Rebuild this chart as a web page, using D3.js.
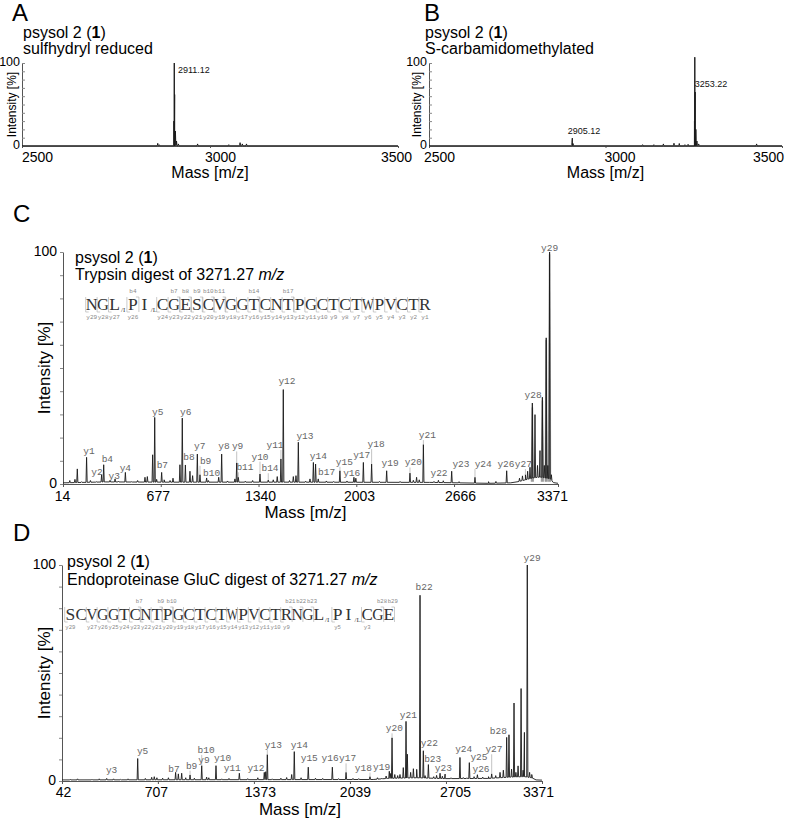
<!DOCTYPE html>
<html><head><meta charset="utf-8">
<script src="https://cdn.jsdelivr.net/npm/d3@7/dist/d3.min.js"></script>
<style>
body{margin:0;background:#fff}
svg{display:block}
</style></head><body>
<svg id="fig" width="785" height="820"></svg>
<script>
// ================= DATA =================
const intensityTicks = [0,10,20,30,40,50,60,70,80,90,100];
const massTicksAB = [2500, 3000, 3500];
const massTicksC  = [14, 677, 1340, 2003, 2666, 3371];
const massTicksD  = [42, 707, 1373, 2039, 2705, 3371];

// Panel A – sulfhydryl reduced  [mass, intensity %]
const peaksA = [[2861,3.2],[2865,1.5],[2904,30],[2905,100],[2906,62],[2908,18],[2911,6],[2916,2.5],
  [2967,2.5],[3050,1.6],[3080,4],[3086,2.5],[3097,2.5]];
const tagsA = [["2911.12", 2957, 88]];

// Panel B – S-carbamidomethylated
const peaksB = [[2905,4],[2906,9.5],[2908,3],[3105,1.6],[3137,1.6],[3164,2.5],[3194,3.3],[3209,3],[3225,1.6],[3234,2],
  [3252,30],[3253,107],[3254,65],[3256,20],[3259,6],[3264,2.5],[3428,2.5]];
const tagsB = [["2905.12", 2939, 14], ["3253.22", 3299, 71]];

// Panel C – trypsin digest  [mass, intensity %]
const peaksC = [[111,6.5],[174,11.5],[276,4],[290,8.3],[333,1.5],[367,2.2],[437,5],[570,2.9],[586,3.2],[622,12.6],[636,28.7],
  [649,2],[683,5],[807,8.3],[823,28.4],[844,8.2],[875,5.5],[893,3.6],[925,12.9],[943,4],[988,2.6],[1070,2.9],[1090,12.9],
  [1180,2.2],[1192,9.1],[1203,2.9],[1350,4.3],[1406,1.7],[1467,3.2],[1492,10.8],[1508,40.7],[1576,3.2],[1594,3.6],[1610,18],
  [1689,2.2],[1712,9.3],[1727,8.6],[1745,2.2],[1892,5.7],[1987,2.9],[2051,9.3],[2107,8.6],[2209,5.7],[2367,4.7],[2412,2.9],
  [2458,17],[2593,1.4],[2650,5.5],[2808,2.9],[3023,5.7],[3150,4],[3165,5.5],[3181,7.2],[3197,34.9],[3215,29.9],[3232,8],
  [3249,14.4],[3265,37.4],[3278,8],[3291,63],[3302,8],[3314,100],[3326,4]];
// broad (grey) profile of the most intense precursor-region peaks
const broadC = [[3197,33],[3265,36],[3291,62],[3314,99]];
const noiseC = [[60,1.5],[95,2],[140,1],[200,1.5],[240,1],[390,1.2],[480,1],[520,1.5],[700,1.8],[740,1.5],[760,2.5],
  [1000,1.5],[1130,1.3],[1250,1.2],[1300,1.5],[1440,1.8],[1550,1.5],[1660,1.2],[1800,1.3],[1850,1.1],[1940,1.3],[2000,2.5],
  [2160,1.1],[2300,1.1],[2390,1.6],[2430,1.8],[2530,1.1],[2560,1.6],[2700,1],[2900,1],[2950,1.1],[3110,2.5],[3130,3.5]];
const baseC = [[14,0.5],[300,0.9],[700,0.8],[1500,0.8],[2500,0.7],[2900,0.3],[3050,0.5],[3100,1],[3150,1.8],[3200,2.6],
  [3250,3],[3320,2.2],[3340,0.6],[3371,0.3]];
// [label, peak mass, label mass, label level %]
const tagsC = [["y1",174,190,12.8],["y2",276,245,3.7],["b4",290,315,9.5],["y3",367,362,2.3],["y4",437,437,5.6],
  ["y5",636,656,29.6],["b7",683,688,7.0],["y6",823,846,29.6],["b8",844,868,10.2],["y7",925,941,14.9],["b9",943,981,8.7],
  ["b10",988,1022,3.5],["y8",1090,1106,14.9],["y9",1192,1198,14.9],["b11",1203,1248,5.9],["y10",1350,1350,10.5],
  ["b14",1406,1418,5.5],["y11",1492,1452,15.5],["y12",1508,1533,43.2],["y13",1610,1655,19.5],["y14",1712,1746,10.9],
  ["b17",1745,1802,3.7],["y15",1892,1922,8.3],["y16",1987,1972,3.3],["y17",2051,2040,11.2],["y18",2107,2137,15.9],
  ["y19",2209,2232,7.9],["y20",2367,2390,8.0],["y21",2458,2485,19.8],["y22",2593,2564,3.5],["y23",2650,2713,7.3],
  ["y24",2808,2864,7.3],["y26",3023,3018,7.3],["y27",3150,3136,7.3],["y28",3197,3202,37.2],["y29",3314,3314,100.6]];

// Panel D – GluC digest
const peaksD = [[352,1.2],[567,10.4],[664,1.7],[682,2],[830,4.0],[849,3.3],[872,3.6],[930,2.8],[1011,7.1],[1045,1.8],
  [1110,7.1],[1272,3.6],[1445,4.0],[1455,4.3],[1466,12.2],[1635,3.0],[1653,13.6],[1750,6.4],[1917,6.4],[2012,4.0],
  [2178,2.0],[2312,4.5],[2322,3.5],[2331,20.0],[2386,3],[2409,6.2],[2428,27.6],[2437,12.4],[2479,5.7],[2502,5.4],
  [2525,86],[2548,14],[2583,7.6],[2664,3.6],[2699,3.2],[2802,10.9],[2825,1.6],[2867,8.5],[2923,2.9],[3022,3.3],[3080,4],
  [3103,5],[3126,20.2],[3142,21.4],[3160,5.5],[3177,36.1],[3205,7],[3226,42.8],[3249,22.5],[3269,100],[3285,4]];
const noiseD = [[100,0.8],[150,1],[250,0.8],[300,1],[400,1],[450,0.8],[500,1],[620,1.2],[700,1.5],[740,1.3],[780,1.5],
  [900,1.5],[960,1.3],[1060,1.5],[1150,1],[1200,1.2],[1330,1.1],[1400,1.5],[1500,1],[1560,1.3],[1600,1.6],[1700,1.5],
  [1800,1.3],[1850,1.2],[1960,1.1],[2060,1.2],[2100,1.1],[2230,1.5],[2260,1.3],[2290,2.3],[2350,3],[2370,2.5],[2460,4],
  [2560,2.5],[2620,2],[2640,2.6],[2680,2.2],[2740,1.5],[2850,1.5],[2900,2],[2960,1.8],[3000,2],[3050,2.5],[3190,4],
  [3240,5],[3300,3]];
const baseD = [[42,0.5],[2200,0.7],[2300,1.2],[2500,1.5],[2700,1.1],[3000,1.2],[3150,1.8],[3250,2],[3300,1.5],[3330,0.5],[3371,0.4]];
const tagsD = [["y3",352,386,3.7],["y5",567,601,12.6],["b7",830,819,4.2],["b9",930,941,5.7],["b10",1011,1041,13.0],
  ["y9",1011,1027,8.4],["y10",1110,1156,9.1],["y11",1272,1223,4.5],["y12",1455,1387,4.5],["y13",1466,1508,15.3],
  ["y14",1653,1688,15.3],["y15",1750,1757,9.1],["y16",1917,1901,9.1],["y17",2012,2023,9.1],["y18",2178,2132,4.8],
  ["y19",2312,2259,5.3],["y20",2331,2347,23.0],["y21",2428,2444,29.3],["b22",2525,2553,88.4],["y22",2548,2590,16.4],
  ["b23",2583,2613,8.7],["y23",2664,2687,4.8],["y24",2802,2828,13.6],["y25",2867,2934,9.8],["y26",2923,2948,4.0],
  ["y27",3022,3038,13.3],["b28",3126,3068,21.9],["y29",3269,3302,102]];

// Sequences and observed fragment ions
const seqC = "NGLPICGESCVGGTCNTPGCTCTWPVCTR";
const subsC = [[3,"/I"],[5,"/L"]];
const bIonsC = [4,7,8,9,10,11,14,17];
const yIonsC = [29,28,27,26,24,23,22,21,20,19,18,17,16,15,14,13,12,11,10,9,8,7,6,5,4,3,2,1];
const seqD = "SCVGGTCNTPGCTCTWPVCTRNGLPICGE";
const subsD = [[24,"/I"],[26,"/L"]];
const bIonsD = [7,9,10,21,22,23,28,29];
const yIonsD = [29,27,26,25,24,23,22,21,20,19,18,17,16,15,14,13,12,11,10,9,5,3];

// ================= DRAWING =================
const SANS = '"Liberation Sans", Arial, Helvetica, sans-serif';
const MONO = '"Liberation Mono", "DejaVu Sans Mono", monospace';
const SERIF = '"Liberation Serif", "DejaVu Serif", serif';
const svg = d3.select("#fig");

function spectrumPoints(peaks, noise, base, w){
  const bl = d3.scaleLinear().domain(base.map(d=>d[0])).range(base.map(d=>d[1])).clamp(true);
  const pts = base.map(d=>[d[0], d[1]]);
  peaks.concat(noise).forEach(([m,h])=>{
    pts.push([m-w, bl(m-w)], [m, Math.max(h, bl(m))], [m+w, bl(m+w)]);
  });
  pts.sort((a,b)=>a[0]-b[0]);
  return pts;
}

function panel(cfg){
  const x = d3.scaleLinear().domain(cfg.domain).range(cfg.xr);
  const y = d3.scaleLinear().domain([0,100]).range(cfg.yr);
  const g = svg.append("g");

  g.append("text").attr("x", cfg.letter[1]).attr("y", cfg.letter[2]).text(cfg.letter[0])
    .style("font-family", SANS).style("font-size", "24px").attr("fill", "#000");

  const t = g.append("text").attr("x", cfg.title[0]).attr("y", cfg.title[1])
    .style("font-family", SANS).style("font-size", "16px").attr("fill", "#000");
  t.append("tspan").text("psysol 2 (");
  t.append("tspan").text("1").style("font-weight", "bold");
  t.append("tspan").text(")");
  const t2 = g.append("text").attr("x", cfg.title[0]).attr("y", cfg.title[1] + cfg.title[2])
    .style("font-family", SANS).style("font-size", "16px").attr("fill", "#000");
  cfg.subtitle.forEach(([s, it]) => { const sp = t2.append("tspan").text(s); if (it) sp.style("font-style", "italic"); });

  const ya = g.append("g").attr("transform", `translate(${cfg.xr[0]},0)`)
    .call(d3.axisLeft(y).tickValues(intensityTicks).tickSize(cfg.yTick).tickSizeOuter(0).tickPadding(cfg.yPad)
      .tickFormat(d => (d === 0 || d === 100) ? d : ""));
  ya.select(".domain").attr("stroke", "#555");
  ya.selectAll(".tick line").attr("stroke", "#888");
  ya.selectAll(".tick text").style("font-family", SANS).style("font-size", cfg.fsY + "px").attr("fill", "#000")
    .attr("dy", cfg.yDy || "0.32em");

  const xa = g.append("g").attr("transform", `translate(0,${cfg.yr[0]})`)
    .call(d3.axisBottom(x).tickValues(cfg.ticks).tickSize(cfg.xTick).tickSizeOuter(0).tickPadding(cfg.xPad).tickFormat(d3.format("d")));
  xa.select(".domain").attr("stroke", "#555");
  xa.selectAll(".tick line").attr("stroke", "#555");
  xa.selectAll(".tick text").style("font-family", SANS).style("font-size", cfg.fs + "px").attr("fill", "#000")
    .attr("dx", (d, i) => cfg.tickDx[i]);

  g.append("text").attr("x", (cfg.xr[0] + cfg.xr[1]) / 2 + cfg.massDx).attr("y", cfg.massY)
    .attr("text-anchor", "middle").style("font-family", SANS).style("font-size", cfg.fsT + "px").text("Mass [m/z]");
  g.append("text").attr("transform", `translate(${cfg.intX},${(cfg.yr[0] + cfg.yr[1]) / 2}) rotate(-90)`)
    .attr("text-anchor", "middle").style("font-family", SANS).style("font-size", cfg.fsI + "px").text("Intensity [%]");

  if (cfg.broad) {
    const area = d3.line().x(d => x(d[0])).y(d => y(d[1]));
    cfg.broad.forEach(([m, h]) => {
      g.append("path").attr("d", area([[m - 8, 1], [m - 2.5, h], [m + 2.5, h], [m + 8, 1]]))
        .attr("fill", "#9a9a9a").attr("stroke", "#8a8a8a").attr("stroke-width", 0.6);
    });
  }

  const line = d3.line().x(d => x(d[0])).y(d => y(d[1]));
  g.append("path").attr("d", line(spectrumPoints(cfg.peaks, cfg.noise || [], cfg.base, cfg.w)))
    .attr("fill", "none").attr("stroke", "#1a1a1a").attr("stroke-width", cfg.sw || 0.9).attr("stroke-linejoin", "miter");

  return {g, x, y};
}

function mzTags(p, tags){
  tags.forEach(([txt, m, lvl]) => {
    p.g.append("text").attr("x", p.x(m)).attr("y", p.y(lvl)).attr("text-anchor", "middle")
      .style("font-family", SANS).style("font-size", "9px").attr("fill", "#111").text(txt);
  });
}

function ionTags(p, tags, peaks){
  const hmap = new Map(peaks.map(d => [d[0], d[1]]));
  tags.forEach(([txt, pm, lm, lvl]) => {
    const h = hmap.get(pm);
    const top = p.y(h), lab = p.y(lvl) + 2;
    if (top - lab > 4) {
      p.g.append("line").attr("x1", p.x(pm)).attr("x2", p.x(pm)).attr("y1", top).attr("y2", lab)
        .attr("stroke", "#aaa").attr("stroke-width", 0.7);
    }
    p.g.append("text").attr("x", p.x(lm)).attr("y", p.y(lvl)).attr("text-anchor", "middle")
      .style("font-family", MONO).style("font-size", "9.5px").attr("fill", "#666").text(txt);
  });
}

function sequence(cfg){
  const g = svg.append("g");
  const N = cfg.seq.length;
  const left = i => cfg.x0 + i * cfg.pitch + cfg.gap * cfg.subs.filter(s => s[0] <= i).length;
  const bY = cfg.base;
  cfg.seq.split("").forEach((c, i) => {
    const t = g.append("text").attr("x", left(i) + cfg.pitch / 2).attr("y", bY).attr("text-anchor", "middle")
      .style("font-family", SERIF).style("font-size", "17.5px").attr("fill", "#333").text(c);
    const wdt = t.node().getComputedTextLength();
    const maxW = cfg.pitch * 1.05;
    if (wdt > maxW) {
      const cx = left(i) + cfg.pitch / 2, s = maxW / wdt;
      t.attr("transform", `translate(${cx},0) scale(${s},1) translate(${-cx},0)`);
    }
  });
  cfg.subs.forEach(([after, s]) => {
    g.append("text").attr("x", left(after - 1) + cfg.pitch + 0.8).attr("y", bY + 2)
      .style("font-family", SERIF).style("font-size", "7px").attr("fill", "#444").text(s);
  });
  const mk = "#b5b5b5";
  cfg.yIons.forEach(n => {
    const i = N - n, bx = left(i) - 0.3;
    g.append("path").attr("d", `M${bx},${bY - 13}V${bY + 2}h3`).attr("fill", "none").attr("stroke", mk).attr("stroke-width", 0.7);
    g.append("text").attr("x", left(i) + cfg.pitch / 2).attr("y", bY + 9.2).attr("text-anchor", "middle")
      .style("font-family", MONO).style("font-size", cfg.fsIon + "px").attr("fill", "#888").text("y" + n);
  });
  cfg.bIons.forEach(n => {
    const i = n - 1, bx = left(i) + cfg.pitch + 0.3;
    g.append("path").attr("d", `M${bx - 3},${bY - 13}H${bx}V${bY + 2}`).attr("fill", "none").attr("stroke", mk).attr("stroke-width", 0.7);
    g.append("text").attr("x", left(i) + cfg.pitch / 2 + cfg.bShift).attr("y", bY - 17.5).attr("text-anchor", "middle")
      .style("font-family", MONO).style("font-size", cfg.fsIon + "px").attr("fill", "#888").text("b" + n);
  });
}

// ---- Panel A
const pA = panel({domain:[2500,3500], xr:[22,398], yr:[146,63], ticks:massTicksAB, tickDx:[15,10,-2], xTick:2, xPad:4,
  yTick:-3, yPad:2, fsY:12.5, yDy:"0.2em",
  letter:["A",12,21], title:[23,38,16], subtitle:[["sulfhydryl reduced",false]], fs:14, fsT:16, fsI:12,
  massDx:0, massY:178, intX:16, peaks:peaksA, base:[[2500,0.3],[3500,0.3]], w:1.2, sw:1});
mzTags(pA, tagsA);

// ---- Panel B
const pB = panel({domain:[2500,3500], xr:[429,782], yr:[146,63], ticks:massTicksAB, tickDx:[10,14,-14], xTick:2, xPad:4,
  yTick:-3, yPad:2, fsY:12.5, yDy:"0.2em",
  letter:["B",424,21], title:[425,38,16], subtitle:[["S-carbamidomethylated",false]], fs:14, fsT:16, fsI:12,
  massDx:0, massY:178, intX:421, peaks:peaksB, base:[[2500,0.3],[3500,0.3]], w:1.2, sw:1});
mzTags(pB, tagsB);

// ---- Panel C
const pC = panel({domain:[14,3371], xr:[63,558], yr:[484,252], ticks:massTicksC, tickDx:[-1,-3,1.5,2.7,6,-6], xTick:3, xPad:4,
  yTick:3, yPad:3, fsY:14, yDy:"0.25em",
  letter:["C",13,222], title:[75,263,17], subtitle:[["Trypsin digest of 3271.27 ",false],["m/z",true]], fs:14, fsT:17, fsI:17,
  massDx:-5, massY:518, intX:50, peaks:peaksC, broad:broadC, noise:noiseC, base:baseC, w:4});
ionTags(pC, tagsC, peaksC);
sequence({seq:seqC, subs:subsC, bIons:bIonsC, yIons:yIonsC, x0:86, pitch:11.4, gap:7, base:310, bShift:0, fsIon:6});

// ---- Panel D
const pD = panel({domain:[42,3371], xr:[62,542], yr:[781,565], ticks:massTicksD, tickDx:[1,-2,6,5,9,-4], xTick:3, xPad:3,
  yTick:3, yPad:3, fsY:14, yDy:"0.25em",
  letter:["D",13,541], title:[67,567,18], subtitle:[["Endoproteinase GluC digest of 3271.27 ",false],["m/z",true]], fs:14, fsT:17, fsI:17,
  massDx:-2, massY:815, intX:50, peaks:peaksD, noise:noiseD, base:baseD, w:4});
ionTags(pD, tagsD, peaksD);
sequence({seq:seqD, subs:subsD, bIons:bIonsD, yIons:yIonsD, x0:65, pitch:10.8, gap:8, base:620, bShift:4, fsIon:5.6});
</script>
</body></html>
